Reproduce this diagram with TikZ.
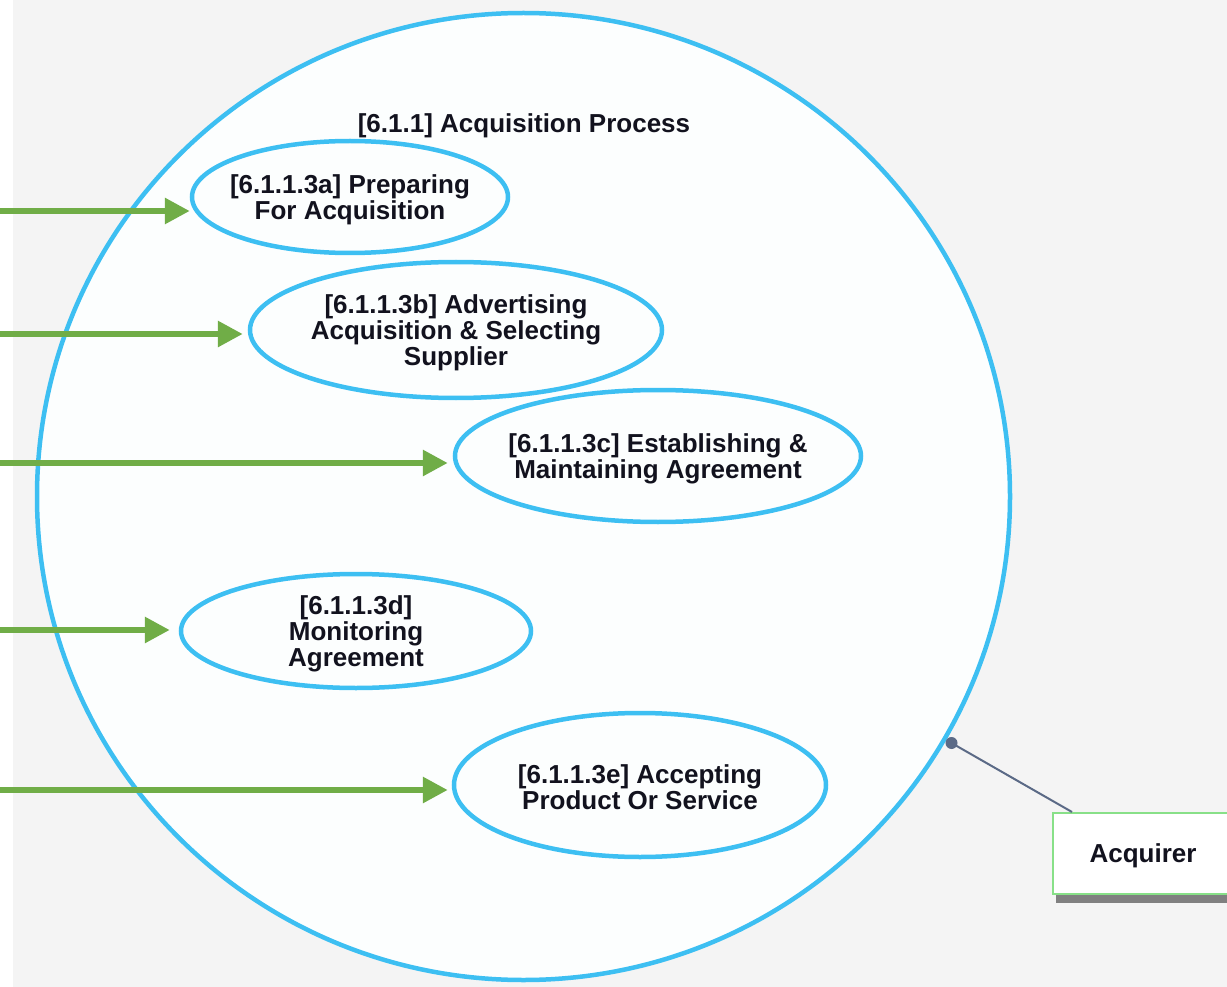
\documentclass[tikz,border=0pt]{standalone}
\usepackage{fontspec}
\setmainfont{Liberation Sans}
\usetikzlibrary{shapes.geometric,arrows.meta,shadows,calc}

\definecolor{canvas}{HTML}{F4F4F4}
\definecolor{bubblefill}{HTML}{FCFEFE}
\definecolor{procblue}{HTML}{3DBFF2}
\definecolor{flowgreen}{HTML}{70AD47}
\definecolor{actorgreen}{HTML}{88E088}
\definecolor{linkslate}{HTML}{5B6A86}
\definecolor{labelink}{HTML}{12121E}

\tikzset{
  lbl/.style={font=\fontsize{26}{26}\selectfont\bfseries, text=labelink, align=center},
  captext/.style={lbl, yshift=-2.5pt},
  proc/.style={ellipse, draw=procblue, line width=4.5pt, fill=bubblefill, inner sep=0pt},
  flow/.style={draw=flowgreen, line width=6pt, -{Triangle[length=25pt,width=25pt]}},
  actor/.style={rectangle, draw=actorgreen, line width=2pt, fill=white,
    minimum width=180pt, minimum height=81pt, inner sep=0pt,
    drop shadow={shadow xshift=3pt, shadow yshift=-9pt, fill=black!50, opacity=1}},
  link/.style={draw=linkslate, line width=2pt}
}

\begin{document}
\begin{tikzpicture}[x=1pt,y=-1pt]
  % page frame and backdrop
  \useasboundingbox (0,0) rectangle (1227,987);
  \clip (0,0) rectangle (1227,987);
  \fill[white] (0,0) rectangle (1227,987);
  \fill[canvas] (13,0) rectangle (1227,987);

  % system boundary
  \draw[procblue, line width=4.5pt, fill=bubblefill]
    (523.5,496.5) ellipse [x radius=486.5, y radius=483.5];
  \node[lbl] (title) at (524,126) {[6.1.1] Acquisition Process};

  % use cases: outline first, caption on top
  \node[proc, minimum width=316pt, minimum height=112pt] (a) at (350,197) {};
  \node[captext] (ta) at (a) {[6.1.1.3a] Preparing\\For Acquisition};
  \node[proc, minimum width=412pt, minimum height=136pt] (b) at (456,330) {};
  \node[captext] (tb) at (b) {[6.1.1.3b] Advertising\\Acquisition \& Selecting\\Supplier};
  \node[proc, minimum width=406pt, minimum height=132pt] (c) at (658,456) {};
  \node[captext] (tc) at (c) {[6.1.1.3c] Establishing \&\\Maintaining Agreement};
  \node[proc, minimum width=350pt, minimum height=114pt] (d) at (356,631) {};
  \node[captext] (td) at (d) {[6.1.1.3d]\\Monitoring\\Agreement};
  \node[proc, minimum width=372pt, minimum height=144pt] (e) at (640,785) {};
  \node[captext] (te) at (e) {[6.1.1.3e] Accepting\\Product Or Service};

  % incoming flows
  \coordinate (sa) at (0,211);
  \coordinate (sb) at (0,334);
  \coordinate (sc) at (0,463);
  \coordinate (sd) at (0,630);
  \coordinate (se) at (0,790);
  \draw[flow, shorten >=0pt] (sa) -- (a.west |- sa);
  \draw[flow, shorten >=5pt] (sb) -- (b.west |- sb);
  \draw[flow, shorten >=5pt] (sc) -- (c.west |- sc);
  \draw[flow, shorten >=9pt] (sd) -- (d.west |- sd);
  \draw[flow, shorten >=4pt] (se) -- (e.west |- se);

  % actor
  \node[actor] (acq) at (1143,853.5) {};
  \node[captext] (tacq) at (acq) {Acquirer};
  \coordinate (pin) at (951.5,743);
  \draw[link] (pin) -- ($(acq.north west)+(20,0)$);
  \fill[linkslate] (pin) circle (6pt);
\end{tikzpicture}
\end{document}
